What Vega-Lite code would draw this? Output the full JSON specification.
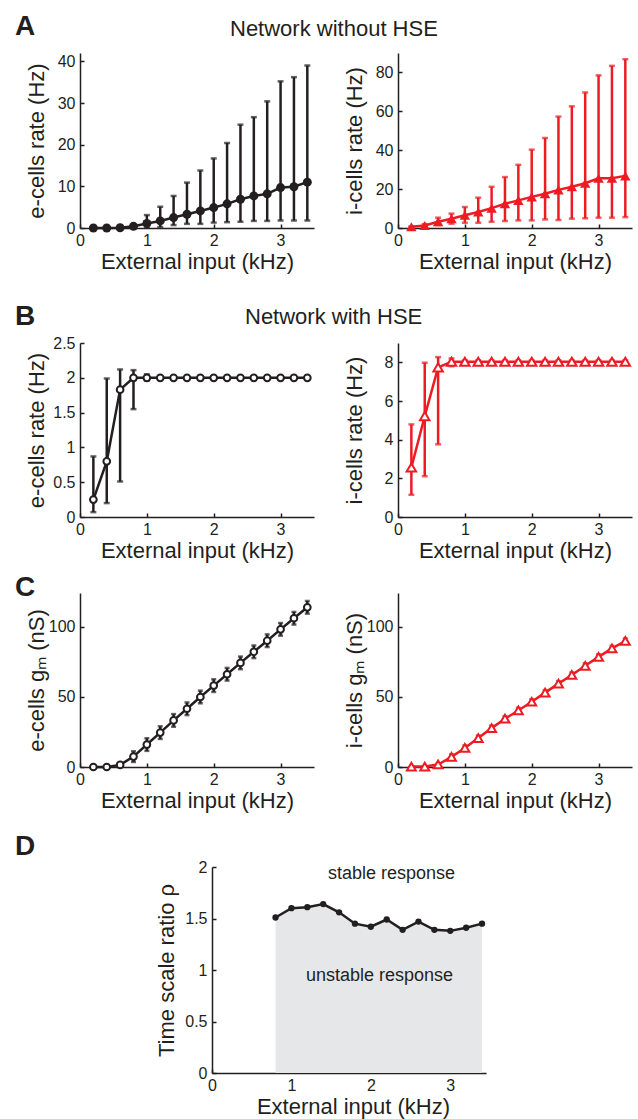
{
  "$schema": "https://vega.github.io/schema/vega-lite/v6.json",
  "background": "white",
  "padding": {"left": 15, "top": 13, "right": 5, "bottom": 2},
  "columns": 2,
  "spacing": {"row": 40, "column": 84},
  "bounds": "flush",
  "align": "each",
  "datasets": {
    "ae": [
      {"x": 0.2, "m": 0, "lo": 0, "hi": 0}, {"x": 0.4, "m": 0, "lo": 0, "hi": 0},
      {"x": 0.6, "m": 0.05, "lo": 0, "hi": 0.1}, {"x": 0.8, "m": 0.4, "lo": 0.1, "hi": 0.8},
      {"x": 1.0, "m": 1.1, "lo": 0.1, "hi": 3.1}, {"x": 1.2, "m": 1.7, "lo": 0.2, "hi": 5.1},
      {"x": 1.4, "m": 2.5, "lo": 0.7, "hi": 7.7}, {"x": 1.6, "m": 3.3, "lo": 1.0, "hi": 10.9},
      {"x": 1.8, "m": 4.1, "lo": 1.0, "hi": 13.8}, {"x": 2.0, "m": 4.9, "lo": 1.3, "hi": 16.7},
      {"x": 2.2, "m": 5.8, "lo": 1.4, "hi": 20.4}, {"x": 2.4, "m": 6.9, "lo": 1.5, "hi": 24.8},
      {"x": 2.6, "m": 7.7, "lo": 1.7, "hi": 26.6}, {"x": 2.8, "m": 8.2, "lo": 1.7, "hi": 30.4},
      {"x": 3.0, "m": 9.7, "lo": 1.8, "hi": 35.2}, {"x": 3.2, "m": 9.9, "lo": 1.8, "hi": 36.2},
      {"x": 3.4, "m": 11.0, "lo": 1.8, "hi": 39.0}
    ],
    "ai": [
      {"x": 0.2, "m": 0.6, "lo": 0.4, "hi": 0.8}, {"x": 0.4, "m": 1.3, "lo": 0.5, "hi": 2.0},
      {"x": 0.6, "m": 3.2, "lo": 1.5, "hi": 5.3}, {"x": 0.8, "m": 4.8, "lo": 2.2, "hi": 7.4},
      {"x": 1.0, "m": 6.6, "lo": 2.7, "hi": 10.8}, {"x": 1.2, "m": 8.2, "lo": 2.7, "hi": 15.6},
      {"x": 1.4, "m": 10.2, "lo": 3.2, "hi": 21.2}, {"x": 1.6, "m": 12.5, "lo": 3.6, "hi": 26.2},
      {"x": 1.8, "m": 14.2, "lo": 3.9, "hi": 32.5}, {"x": 2.0, "m": 16.0, "lo": 3.9, "hi": 40.3},
      {"x": 2.2, "m": 17.6, "lo": 4.4, "hi": 46.3}, {"x": 2.4, "m": 19.6, "lo": 4.1, "hi": 57.3},
      {"x": 2.6, "m": 21.2, "lo": 4.8, "hi": 62.6}, {"x": 2.8, "m": 23.0, "lo": 5.0, "hi": 69.7},
      {"x": 3.0, "m": 25.6, "lo": 5.3, "hi": 78.5}, {"x": 3.2, "m": 25.6, "lo": 5.3, "hi": 83.4},
      {"x": 3.4, "m": 26.8, "lo": 5.6, "hi": 86.8}
    ],
    "be": [
      {"x": 0.2, "m": 0.25, "lo": 0.07, "hi": 0.87}, {"x": 0.4, "m": 0.8, "lo": 0.2, "hi": 1.99},
      {"x": 0.6, "m": 1.83, "lo": 0.51, "hi": 2.12}, {"x": 0.8, "m": 2.0, "lo": 1.55, "hi": 2.11},
      {"x": 1.0, "m": 2.0, "lo": 1.96, "hi": 2.05}, {"x": 1.2, "m": 2.0, "lo": 1.98, "hi": 2.02},
      {"x": 1.4, "m": 2.0, "lo": 1.98, "hi": 2.02}, {"x": 1.6, "m": 2.0, "lo": 1.98, "hi": 2.02},
      {"x": 1.8, "m": 2.0, "lo": 1.98, "hi": 2.02}, {"x": 2.0, "m": 2.0, "lo": 1.98, "hi": 2.02},
      {"x": 2.2, "m": 2.0, "lo": 1.98, "hi": 2.02}, {"x": 2.4, "m": 2.0, "lo": 1.98, "hi": 2.02},
      {"x": 2.6, "m": 2.0, "lo": 1.98, "hi": 2.02}, {"x": 2.8, "m": 2.0, "lo": 1.98, "hi": 2.02},
      {"x": 3.0, "m": 2.0, "lo": 1.98, "hi": 2.02}, {"x": 3.2, "m": 2.0, "lo": 1.98, "hi": 2.02},
      {"x": 3.4, "m": 2.0, "lo": 1.98, "hi": 2.02}
    ],
    "bi": [
      {"x": 0.2, "m": 2.56, "lo": 1.15, "hi": 4.79}, {"x": 0.4, "m": 5.22, "lo": 2.11, "hi": 7.98},
      {"x": 0.6, "m": 7.74, "lo": 3.76, "hi": 8.27}, {"x": 0.8, "m": 8.03, "lo": 7.8, "hi": 8.2},
      {"x": 1.0, "m": 8.03, "lo": 7.95, "hi": 8.1}, {"x": 1.2, "m": 8.03, "lo": 7.95, "hi": 8.1},
      {"x": 1.4, "m": 8.03, "lo": 7.95, "hi": 8.1}, {"x": 1.6, "m": 8.03, "lo": 7.95, "hi": 8.1},
      {"x": 1.8, "m": 8.03, "lo": 7.95, "hi": 8.1}, {"x": 2.0, "m": 8.03, "lo": 7.95, "hi": 8.1},
      {"x": 2.2, "m": 8.03, "lo": 7.95, "hi": 8.1}, {"x": 2.4, "m": 8.03, "lo": 7.95, "hi": 8.1},
      {"x": 2.6, "m": 8.03, "lo": 7.95, "hi": 8.1}, {"x": 2.8, "m": 8.03, "lo": 7.95, "hi": 8.1},
      {"x": 3.0, "m": 8.03, "lo": 7.95, "hi": 8.1}, {"x": 3.2, "m": 8.03, "lo": 7.95, "hi": 8.1},
      {"x": 3.4, "m": 8.03, "lo": 7.95, "hi": 8.1}
    ],
    "ce": [
      {"x": 0.2, "m": 0, "lo": 0, "hi": 0}, {"x": 0.4, "m": 0, "lo": 0, "hi": 0},
      {"x": 0.6, "m": 1.5, "lo": 0.5, "hi": 2.5}, {"x": 0.8, "m": 7.4, "lo": 3.6, "hi": 11.2},
      {"x": 1.0, "m": 16.0, "lo": 11.5, "hi": 20.5}, {"x": 1.2, "m": 24.5, "lo": 20.0, "hi": 29.0},
      {"x": 1.4, "m": 33.2, "lo": 28.7, "hi": 37.7}, {"x": 1.6, "m": 41.5, "lo": 37.0, "hi": 46.0},
      {"x": 1.8, "m": 49.9, "lo": 45.4, "hi": 54.4}, {"x": 2.0, "m": 58.0, "lo": 53.5, "hi": 62.5},
      {"x": 2.2, "m": 66.1, "lo": 61.6, "hi": 70.6}, {"x": 2.4, "m": 74.2, "lo": 69.7, "hi": 78.7},
      {"x": 2.6, "m": 82.1, "lo": 77.6, "hi": 86.6}, {"x": 2.8, "m": 90.0, "lo": 85.5, "hi": 94.5},
      {"x": 3.0, "m": 98.1, "lo": 93.6, "hi": 102.6}, {"x": 3.2, "m": 106.0, "lo": 101.5, "hi": 110.5},
      {"x": 3.4, "m": 113.8, "lo": 109.3, "hi": 118.3}
    ],
    "ci": [
      {"x": 0.2, "m": 0.3, "lo": 0.3, "hi": 0.3}, {"x": 0.4, "m": 0.3, "lo": 0.3, "hi": 0.3},
      {"x": 0.6, "m": 1.8, "lo": 0.8, "hi": 2.8}, {"x": 0.8, "m": 7.2, "lo": 5.2, "hi": 9.2},
      {"x": 1.0, "m": 13.6, "lo": 11.6, "hi": 15.6}, {"x": 1.2, "m": 20.6, "lo": 18.6, "hi": 22.6},
      {"x": 1.4, "m": 27.7, "lo": 25.7, "hi": 29.7}, {"x": 1.6, "m": 34.4, "lo": 32.4, "hi": 36.4},
      {"x": 1.8, "m": 40.3, "lo": 38.3, "hi": 42.3}, {"x": 2.0, "m": 46.5, "lo": 44.5, "hi": 48.5},
      {"x": 2.2, "m": 53.0, "lo": 51.0, "hi": 55.0}, {"x": 2.4, "m": 59.4, "lo": 57.4, "hi": 61.4},
      {"x": 2.6, "m": 65.6, "lo": 63.6, "hi": 67.6}, {"x": 2.8, "m": 72.1, "lo": 70.1, "hi": 74.1},
      {"x": 3.0, "m": 78.5, "lo": 76.5, "hi": 80.5}, {"x": 3.2, "m": 84.5, "lo": 82.5, "hi": 86.5},
      {"x": 3.4, "m": 89.8, "lo": 87.8, "hi": 91.8}
    ],
    "d": [
      {"x": 0.8, "r": 1.51}, {"x": 1.0, "r": 1.60}, {"x": 1.2, "r": 1.61}, {"x": 1.4, "r": 1.64},
      {"x": 1.6, "r": 1.56}, {"x": 1.8, "r": 1.45}, {"x": 2.0, "r": 1.42}, {"x": 2.2, "r": 1.49},
      {"x": 2.4, "r": 1.39}, {"x": 2.6, "r": 1.47}, {"x": 2.8, "r": 1.39}, {"x": 3.0, "r": 1.38},
      {"x": 3.2, "r": 1.41}, {"x": 3.4, "r": 1.45}
    ],
    "labels": [
      {"lx": 2.26, "ly": 1.93, "t": "stable response"},
      {"lx": 2.11, "ly": 0.94, "t": "unstable response"}
    ]
  },
  "concat": [
    {
      "width": 234, "height": 175,
      "title": {"text": "A", "dx": -65, "dy": -8, "fontSize": 28, "fontWeight": "bold"},
      "data": {"name": "ae"},
      "encoding": {"x": {"field": "x", "type": "quantitative", "scale": {"domain": [0, 3.5], "nice": false}, "axis": {"values": [0, 1, 2, 3], "format": "~r", "title": "External input (kHz)"}}},
      "layer": [
        {"mark": {"type": "rule", "color": "#231f20", "strokeWidth": 2.5}, "encoding": {"y": {"field": "lo", "type": "quantitative", "scale": {"domain": [0, 42], "nice": false}, "axis": {"values": [0, 10, 20, 30, 40], "format": "~r", "title": "e-cells rate (Hz)"}}, "y2": {"field": "hi"}}},
        {"mark": {"type": "tick", "orient": "horizontal", "color": "#231f20", "size": 6, "thickness": 2.5}, "encoding": {"y": {"field": "lo", "type": "quantitative", "scale": {"domain": [0, 42], "nice": false}, "axis": {"values": [0, 10, 20, 30, 40], "format": "~r", "title": "e-cells rate (Hz)"}}}},
        {"mark": {"type": "tick", "orient": "horizontal", "color": "#231f20", "size": 6, "thickness": 2.5}, "encoding": {"y": {"field": "hi", "type": "quantitative", "scale": {"domain": [0, 42], "nice": false}, "axis": {"values": [0, 10, 20, 30, 40], "format": "~r", "title": "e-cells rate (Hz)"}}}},
        {"mark": {"type": "line", "color": "#231f20", "strokeWidth": 2.5}, "encoding": {"y": {"field": "m", "type": "quantitative", "scale": {"domain": [0, 42], "nice": false}, "axis": {"values": [0, 10, 20, 30, 40], "format": "~r", "title": "e-cells rate (Hz)"}}}},
        {"mark": {"type": "point", "shape": "circle", "filled": true, "color": "#231f20", "size": 81, "opacity": 1}, "encoding": {"y": {"field": "m", "type": "quantitative", "scale": {"domain": [0, 42], "nice": false}, "axis": {"values": [0, 10, 20, 30, 40], "format": "~r", "title": "e-cells rate (Hz)"}}}}
      ]
    },
    {
      "width": 234, "height": 175,
      "title": {"text": "Network without HSE", "dx": -168, "dy": -8, "fontSize": 22, "fontWeight": "normal"},
      "data": {"name": "ai"},
      "encoding": {"x": {"field": "x", "type": "quantitative", "scale": {"domain": [0, 3.5], "nice": false}, "axis": {"values": [0, 1, 2, 3], "format": "~r", "title": "External input (kHz)"}}},
      "layer": [
        {"mark": {"type": "rule", "color": "#ed1c24", "strokeWidth": 2.5}, "encoding": {"y": {"field": "lo", "type": "quantitative", "scale": {"domain": [0, 90], "nice": false}, "axis": {"values": [0, 20, 40, 60, 80], "format": "~r", "title": "i-cells rate (Hz)"}}, "y2": {"field": "hi"}}},
        {"mark": {"type": "tick", "orient": "horizontal", "color": "#ed1c24", "size": 6, "thickness": 2.5}, "encoding": {"y": {"field": "lo", "type": "quantitative", "scale": {"domain": [0, 90], "nice": false}, "axis": {"values": [0, 20, 40, 60, 80], "format": "~r", "title": "i-cells rate (Hz)"}}}},
        {"mark": {"type": "tick", "orient": "horizontal", "color": "#ed1c24", "size": 6, "thickness": 2.5}, "encoding": {"y": {"field": "hi", "type": "quantitative", "scale": {"domain": [0, 90], "nice": false}, "axis": {"values": [0, 20, 40, 60, 80], "format": "~r", "title": "i-cells rate (Hz)"}}}},
        {"mark": {"type": "line", "color": "#ed1c24", "strokeWidth": 2.5}, "encoding": {"y": {"field": "m", "type": "quantitative", "scale": {"domain": [0, 90], "nice": false}, "axis": {"values": [0, 20, 40, 60, 80], "format": "~r", "title": "i-cells rate (Hz)"}}}},
        {"mark": {"type": "point", "shape": "triangle-up", "filled": true, "color": "#ed1c24", "size": 110, "opacity": 1}, "encoding": {"y": {"field": "m", "type": "quantitative", "scale": {"domain": [0, 90], "nice": false}, "axis": {"values": [0, 20, 40, 60, 80], "format": "~r", "title": "i-cells rate (Hz)"}}}}
      ]
    },
    {
      "width": 234, "height": 249,
      "title": {"text": "B", "dx": -65, "dy": 67, "fontSize": 28, "fontWeight": "bold"},
      "data": {"name": "be"},
      "encoding": {"x": {"field": "x", "type": "quantitative", "scale": {"domain": [0, 3.5], "nice": false}, "axis": {"values": [0, 1, 2, 3], "format": "~r", "title": "External input (kHz)"}}},
      "layer": [
        {"data": {"values": [{}]}, "mark": {"type": "rule", "color": "#231f20", "strokeWidth": 1.5, "strokeDash": [4, 4]}, "encoding": {"x": {"datum": 0}, "x2": {"datum": 3.5}, "y": {"datum": 2, "type": "quantitative", "scale": {"domain": [0, 2.5], "nice": false, "range": [249, 75]}, "axis": {"values": [0, 0.5, 1, 1.5, 2, 2.5], "format": "~r", "title": "e-cells rate (Hz)"}}}},
        {"mark": {"type": "rule", "color": "#231f20", "strokeWidth": 2.5}, "encoding": {"y": {"field": "lo", "type": "quantitative", "scale": {"domain": [0, 2.5], "nice": false, "range": [249, 75]}, "axis": {"values": [0, 0.5, 1, 1.5, 2, 2.5], "format": "~r", "title": "e-cells rate (Hz)"}}, "y2": {"field": "hi"}}},
        {"mark": {"type": "tick", "orient": "horizontal", "color": "#231f20", "size": 6, "thickness": 2.5}, "encoding": {"y": {"field": "lo", "type": "quantitative", "scale": {"domain": [0, 2.5], "nice": false, "range": [249, 75]}, "axis": {"values": [0, 0.5, 1, 1.5, 2, 2.5], "format": "~r", "title": "e-cells rate (Hz)"}}}},
        {"mark": {"type": "tick", "orient": "horizontal", "color": "#231f20", "size": 6, "thickness": 2.5}, "encoding": {"y": {"field": "hi", "type": "quantitative", "scale": {"domain": [0, 2.5], "nice": false, "range": [249, 75]}, "axis": {"values": [0, 0.5, 1, 1.5, 2, 2.5], "format": "~r", "title": "e-cells rate (Hz)"}}}},
        {"mark": {"type": "line", "color": "#231f20", "strokeWidth": 2.5}, "encoding": {"y": {"field": "m", "type": "quantitative", "scale": {"domain": [0, 2.5], "nice": false, "range": [249, 75]}, "axis": {"values": [0, 0.5, 1, 1.5, 2, 2.5], "format": "~r", "title": "e-cells rate (Hz)"}}}},
        {"mark": {"type": "point", "shape": "circle", "filled": true, "fill": "white", "stroke": "#231f20", "strokeWidth": 2, "size": 45, "opacity": 1}, "encoding": {"y": {"field": "m", "type": "quantitative", "scale": {"domain": [0, 2.5], "nice": false, "range": [249, 75]}, "axis": {"values": [0, 0.5, 1, 1.5, 2, 2.5], "format": "~r", "title": "e-cells rate (Hz)"}}}}
      ]
    },
    {
      "width": 234, "height": 249,
      "title": {"text": "Network with HSE", "dx": -153, "dy": 65, "fontSize": 22, "fontWeight": "normal"},
      "data": {"name": "bi"},
      "encoding": {"x": {"field": "x", "type": "quantitative", "scale": {"domain": [0, 3.5], "nice": false}, "axis": {"values": [0, 1, 2, 3], "format": "~r", "title": "External input (kHz)"}}},
      "layer": [
        {"data": {"values": [{}]}, "mark": {"type": "rule", "color": "#ed1c24", "strokeWidth": 1.5, "strokeDash": [4, 4]}, "encoding": {"x": {"datum": 0}, "x2": {"datum": 3.5}, "y": {"datum": 8, "type": "quantitative", "scale": {"domain": [0, 9], "nice": false, "range": [249, 75]}, "axis": {"values": [0, 2, 4, 6, 8], "format": "~r", "title": "i-cells rate (Hz)"}}}},
        {"mark": {"type": "rule", "color": "#ed1c24", "strokeWidth": 2.5}, "encoding": {"y": {"field": "lo", "type": "quantitative", "scale": {"domain": [0, 9], "nice": false, "range": [249, 75]}, "axis": {"values": [0, 2, 4, 6, 8], "format": "~r", "title": "i-cells rate (Hz)"}}, "y2": {"field": "hi"}}},
        {"mark": {"type": "tick", "orient": "horizontal", "color": "#ed1c24", "size": 6, "thickness": 2.5}, "encoding": {"y": {"field": "lo", "type": "quantitative", "scale": {"domain": [0, 9], "nice": false, "range": [249, 75]}, "axis": {"values": [0, 2, 4, 6, 8], "format": "~r", "title": "i-cells rate (Hz)"}}}},
        {"mark": {"type": "tick", "orient": "horizontal", "color": "#ed1c24", "size": 6, "thickness": 2.5}, "encoding": {"y": {"field": "hi", "type": "quantitative", "scale": {"domain": [0, 9], "nice": false, "range": [249, 75]}, "axis": {"values": [0, 2, 4, 6, 8], "format": "~r", "title": "i-cells rate (Hz)"}}}},
        {"mark": {"type": "line", "color": "#ed1c24", "strokeWidth": 2.5}, "encoding": {"y": {"field": "m", "type": "quantitative", "scale": {"domain": [0, 9], "nice": false, "range": [249, 75]}, "axis": {"values": [0, 2, 4, 6, 8], "format": "~r", "title": "i-cells rate (Hz)"}}}},
        {"mark": {"type": "point", "shape": "triangle-up", "filled": true, "fill": "white", "stroke": "#ed1c24", "strokeWidth": 2, "size": 90, "opacity": 1}, "encoding": {"y": {"field": "m", "type": "quantitative", "scale": {"domain": [0, 9], "nice": false, "range": [249, 75]}, "axis": {"values": [0, 2, 4, 6, 8], "format": "~r", "title": "i-cells rate (Hz)"}}}}
      ]
    },
    {
      "width": 234, "height": 210,
      "title": {"text": "C", "dx": -65, "dy": 49, "fontSize": 28, "fontWeight": "bold"},
      "data": {"name": "ce"},
      "encoding": {"x": {"field": "x", "type": "quantitative", "scale": {"domain": [0, 3.5], "nice": false}, "axis": {"values": [0, 1, 2, 3], "format": "~r", "title": "External input (kHz)"}}},
      "layer": [
        {"mark": {"type": "rule", "color": "#231f20", "strokeWidth": 2.5}, "encoding": {"y": {"field": "lo", "type": "quantitative", "scale": {"domain": [0, 124], "nice": false, "range": [210, 36]}, "axis": {"values": [0, 50, 100], "format": "~r", "title": "e-cells gₘ (nS)"}}, "y2": {"field": "hi"}}},
        {"mark": {"type": "tick", "orient": "horizontal", "color": "#231f20", "size": 5, "thickness": 2.5}, "encoding": {"y": {"field": "lo", "type": "quantitative", "scale": {"domain": [0, 124], "nice": false, "range": [210, 36]}, "axis": {"values": [0, 50, 100], "format": "~r", "title": "e-cells gₘ (nS)"}}}},
        {"mark": {"type": "tick", "orient": "horizontal", "color": "#231f20", "size": 5, "thickness": 2.5}, "encoding": {"y": {"field": "hi", "type": "quantitative", "scale": {"domain": [0, 124], "nice": false, "range": [210, 36]}, "axis": {"values": [0, 50, 100], "format": "~r", "title": "e-cells gₘ (nS)"}}}},
        {"mark": {"type": "line", "color": "#231f20", "strokeWidth": 2.5}, "encoding": {"y": {"field": "m", "type": "quantitative", "scale": {"domain": [0, 124], "nice": false, "range": [210, 36]}, "axis": {"values": [0, 50, 100], "format": "~r", "title": "e-cells gₘ (nS)"}}}},
        {"mark": {"type": "point", "shape": "circle", "filled": true, "fill": "white", "stroke": "#231f20", "strokeWidth": 2, "size": 45, "opacity": 1}, "encoding": {"y": {"field": "m", "type": "quantitative", "scale": {"domain": [0, 124], "nice": false, "range": [210, 36]}, "axis": {"values": [0, 50, 100], "format": "~r", "title": "e-cells gₘ (nS)"}}}}
      ]
    },
    {
      "width": 234, "height": 210,
      "data": {"name": "ci"},
      "encoding": {"x": {"field": "x", "type": "quantitative", "scale": {"domain": [0, 3.5], "nice": false}, "axis": {"values": [0, 1, 2, 3], "format": "~r", "title": "External input (kHz)"}}},
      "layer": [
        {"mark": {"type": "rule", "color": "#ed1c24", "strokeWidth": 2.5}, "encoding": {"y": {"field": "lo", "type": "quantitative", "scale": {"domain": [0, 124], "nice": false, "range": [210, 36]}, "axis": {"values": [0, 50, 100], "format": "~r", "title": "i-cells gₘ (nS)"}}, "y2": {"field": "hi"}}},
        {"mark": {"type": "tick", "orient": "horizontal", "color": "#ed1c24", "size": 5, "thickness": 2}, "encoding": {"y": {"field": "lo", "type": "quantitative", "scale": {"domain": [0, 124], "nice": false, "range": [210, 36]}, "axis": {"values": [0, 50, 100], "format": "~r", "title": "i-cells gₘ (nS)"}}}},
        {"mark": {"type": "tick", "orient": "horizontal", "color": "#ed1c24", "size": 5, "thickness": 2}, "encoding": {"y": {"field": "hi", "type": "quantitative", "scale": {"domain": [0, 124], "nice": false, "range": [210, 36]}, "axis": {"values": [0, 50, 100], "format": "~r", "title": "i-cells gₘ (nS)"}}}},
        {"mark": {"type": "line", "color": "#ed1c24", "strokeWidth": 2.5}, "encoding": {"y": {"field": "m", "type": "quantitative", "scale": {"domain": [0, 124], "nice": false, "range": [210, 36]}, "axis": {"values": [0, 50, 100], "format": "~r", "title": "i-cells gₘ (nS)"}}}},
        {"mark": {"type": "point", "shape": "triangle-up", "filled": true, "fill": "white", "stroke": "#ed1c24", "strokeWidth": 2, "size": 80, "opacity": 1}, "encoding": {"y": {"field": "m", "type": "quantitative", "scale": {"domain": [0, 124], "nice": false, "range": [210, 36]}, "axis": {"values": [0, 50, 100], "format": "~r", "title": "i-cells gₘ (nS)"}}}}
      ]
    },
    {
      "width": 234, "height": 266,
      "title": {"text": "D", "dx": -65, "dy": 58, "fontSize": 28, "fontWeight": "bold"},
      "data": {"name": "d"},
      "encoding": {"x": {"field": "x", "type": "quantitative", "scale": {"domain": [0, 3.45], "nice": false, "range": [132, 406]}, "axis": {"values": [0, 1, 2, 3], "format": "~r", "title": "External input (kHz)", "titleX": 273}}},
      "layer": [
        {"mark": {"type": "area", "color": "#e6e7e8", "opacity": 1}, "encoding": {"y": {"field": "r", "type": "quantitative", "scale": {"domain": [0, 2], "nice": false, "range": [266, 60]}, "axis": {"values": [0, 0.5, 1, 1.5, 2], "format": "~r", "title": "Time scale ratio ρ", "offset": -132, "titleX": -39}}}},
        {"mark": {"type": "line", "color": "#231f20", "strokeWidth": 2.5}, "encoding": {"y": {"field": "r", "type": "quantitative", "scale": {"domain": [0, 2], "nice": false, "range": [266, 60]}, "axis": {"values": [0, 0.5, 1, 1.5, 2], "format": "~r", "title": "Time scale ratio ρ", "offset": -132, "titleX": -39}}}},
        {"mark": {"type": "point", "shape": "circle", "filled": true, "color": "#231f20", "size": 40, "opacity": 1}, "encoding": {"y": {"field": "r", "type": "quantitative", "scale": {"domain": [0, 2], "nice": false, "range": [266, 60]}, "axis": {"values": [0, 0.5, 1, 1.5, 2], "format": "~r", "title": "Time scale ratio ρ", "offset": -132, "titleX": -39}}}},
        {"data": {"name": "labels"}, "mark": {"type": "text", "fontSize": 18, "fill": "#231f20", "align": "center", "baseline": "middle", "font": "Liberation Sans"}, "encoding": {"text": {"field": "t", "type": "nominal"}, "x": {"field": "lx", "type": "quantitative"}, "y": {"field": "ly", "type": "quantitative", "scale": {"domain": [0, 2], "nice": false, "range": [266, 60]}, "axis": {"values": [0, 0.5, 1, 1.5, 2], "format": "~r", "title": "Time scale ratio ρ", "offset": -132, "titleX": -39}}}}
      ]
    }
  ],
  "config": {
    "font": "Liberation Sans",
    "view": {"stroke": null},
    "axis": {
      "grid": false, "domainColor": "#231f20", "domainWidth": 1.5, "tickColor": "#231f20", "tickWidth": 1.5, "tickSize": -4,
      "labelFontSize": 16, "labelColor": "#231f20", "labelFont": "Liberation Sans", "labelFlush": false,
      "titleFontSize": 22, "titleFontWeight": "normal", "titleColor": "#231f20", "titleFont": "Liberation Sans"
    },
    "axisX": {"labelPadding": 8, "titleY": 40, "titleBaseline": "alphabetic"},
    "axisY": {"labelPadding": 9, "titleX": -37, "titleBaseline": "alphabetic"},
    "title": {"font": "Liberation Sans", "color": "#231f20", "anchor": "start", "baseline": "alphabetic", "offset": 0, "frame": "group"}
  }
}
